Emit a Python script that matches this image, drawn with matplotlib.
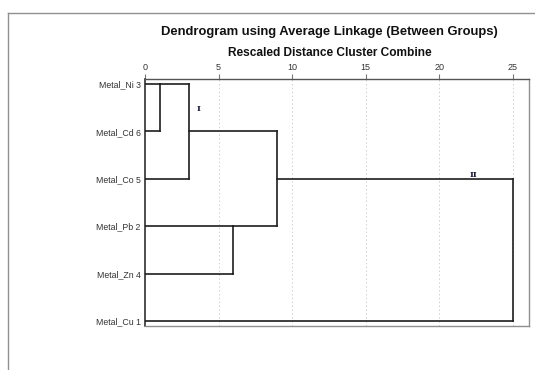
import math
import matplotlib
matplotlib.use("Agg")
import matplotlib.pyplot as plt
from matplotlib.lines import Line2D

# Leaves in display order (top to bottom)
leaf_labels = ["Metal_Ni 3", "Metal_Cd 6", "Metal_Co 5", "Metal_Pb 2", "Metal_Zn 4", "Metal_Cu 1"]

# Agglomeration steps: (cluster A, cluster B, rescaled distance)
# clusters 0-5 are leaves, each merge creates the next id (6, 7, ...)
merge_a = [0, 6, 3, 7, 9]
merge_b = [1, 2, 4, 8, 5]
merge_dist = [1, 3, 6, 9, 25]

tick_values = [0, 5, 10, 15, 20, 25]

# Cluster group annotations: (text, distance, row)
group_text = ["I", "II"]
group_x = [3.67, 22.3]
group_y = [0.52, 1.92]

fig = plt.figure(figsize=(5.35, 3.70), dpi=100)
fig.patch.set_facecolor("white")

# outer frame around the output block
fig.add_artist(Line2D([8 / 535, 8 / 535], [0, 1 - 13 / 370], transform=fig.transFigure,
                      color="#909090", lw=1.0))
fig.add_artist(Line2D([8 / 535, 1], [1 - 13 / 370, 1 - 13 / 370], transform=fig.transFigure,
                      color="#909090", lw=1.0))

ax = fig.add_axes([145 / 535, 1 - 325.7 / 370, (529 - 145) / 535, (325.7 - 79.3) / 370])

# dendrogram layout: position of each cluster and its height
ypos = list(range(len(leaf_labels)))
height = [0.0] * len(leaf_labels)
line_kw = dict(color="#1e1e1e", lw=1.2, solid_capstyle="projecting", zorder=3)
for a, b, d in zip(merge_a, merge_b, merge_dist):
    ya, yb = ypos[a], ypos[b]
    ax.plot([height[a], d], [ya, ya], **line_kw)
    ax.plot([height[b], d], [yb, yb], **line_kw)
    ax.plot([d, d], [ya, yb], **line_kw)
    ypos.append(math.floor((ya + yb) / 2))
    height.append(d)

for t, x, y in zip(group_text, group_x, group_y):
    ax.text(x, y, t, ha="center", va="center", fontsize=6, fontweight="bold",
            family="DejaVu Serif", color="#1c1c3a", zorder=4)

ax.set_xlim(0, 26.1)
ax.set_ylim(len(leaf_labels) - 1 + 0.1, -0.1)

ax.xaxis.tick_top()
ax.set_xticks(tick_values)
ax.set_xticklabels([str(v) for v in tick_values])
ax.tick_params(axis="x", length=3.8, width=0.8, color="#777777", pad=1.2,
               labelsize=6.5, labelcolor="#333333")
for v in tick_values[1:]:
    ax.axvline(v, color="#cfcfcf", lw=0.7, ls=(0, (1.5, 2.5)), zorder=1)

ax.set_yticks(range(len(leaf_labels)))
ax.set_yticklabels(leaf_labels, family="Liberation Sans")
ax.tick_params(axis="y", length=0, pad=3, labelsize=6.3, labelcolor="#333333")
for lbl in ax.get_xticklabels():
    lbl.set_family("Liberation Sans")

ax.spines["left"].set_color("#1e1e1e")
ax.spines["left"].set_linewidth(1.1)
ax.spines["top"].set_color("#555555")
ax.spines["top"].set_linewidth(1.0)
ax.spines["right"].set_color("#8f8f8f")
ax.spines["bottom"].set_color("#8f8f8f")
ax.spines["right"].set_linewidth(1.0)
ax.spines["bottom"].set_linewidth(1.0)

fig.text(329.5 / 535, 1 - 31.5 / 370, "Dendrogram using Average Linkage (Between Groups)",
         ha="center", va="center", fontsize=9.4, fontweight="bold",
         family="Liberation Sans", color="#111111")
fig.text(329.5 / 535, 1 - 53.5 / 370, "Rescaled Distance Cluster Combine",
         ha="center", va="center", fontsize=8.6, fontweight="bold",
         family="Liberation Sans", color="#111111")

fig.savefig("out.png", dpi=100, facecolor="white")
